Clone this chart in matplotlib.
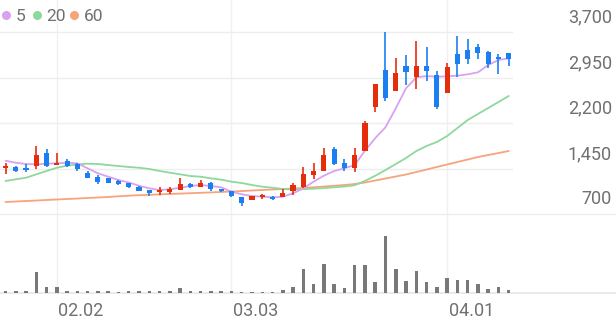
import matplotlib
matplotlib.use("Agg")
import matplotlib.pyplot as plt
import matplotlib.transforms as mtransforms
from matplotlib.lines import Line2D
import numpy as np

# ---------------- data ----------------
opens = [1460, 1480, 1450, 1491, 1700, 1512, 1578, 1529, 1371, 1305,
         1293, 1239, 1206, 1150, 1096, 1068, 1058, 1100, 1200, 1150,
         1206, 1107, 1074, 985, 931, 980, 985, 985, 1079, 1150,
         1343, 1414, 1771, 1535, 1453, 1743, 2468, 3073, 2727, 3144,
         2952, 3144, 2991, 2699, 3337, 3403, 3458, 3375, 3293, 3348]
highs = [1536, 1491, 1524, 1821, 1766, 1700, 1600, 1545, 1409, 1338,
         1300, 1260, 1215, 1161, 1100, 1140, 1140, 1288, 1211, 1255,
         1222, 1110, 1074, 985, 997, 1025, 990, 1117, 1206, 1480,
         1535, 1793, 1800, 1611, 1782, 2228, 2842, 3694, 3279, 3320,
         3551, 3460, 3062, 3193, 3638, 3584, 3496, 3386, 3332, 3348]
lows = [1354, 1392, 1397, 1442, 1480, 1512, 1480, 1404, 1288, 1189,
        1210, 1173, 1130, 1074, 1002, 1013, 1025, 1100, 1133, 1150,
        1079, 1070, 980, 837, 931, 950, 930, 975, 1013, 1123,
        1272, 1414, 1507, 1414, 1397, 1743, 2386, 2562, 2727, 2826,
        2755, 2897, 2430, 2699, 2966, 3167, 3254, 3112, 3002, 3145]
closes = [1480, 1414, 1430, 1677, 1491, 1545, 1496, 1437, 1298, 1227,
          1216, 1200, 1140, 1084, 1041, 1080, 1112, 1190, 1150, 1206,
          1112, 1074, 992, 876, 997, 990, 952, 1051, 1178, 1354,
          1414, 1667, 1524, 1453, 1677, 2195, 2842, 2607, 3018, 3035,
          3144, 3062, 2458, 3128, 3172, 3250, 3348, 3167, 3250, 3250]
volumes = [20, 20, 27, 217, 67, 67, 27, 23, 23, 27,
           23, 17, 20, 20, 23, 23, 27, 50, 27, 23,
           20, 20, 20, 17, 17, 10, 10, 33, 60, 247,
           97, 297, 93, 53, 287, 283, 113, 580, 243, 127,
           220, 113, 63, 153, 137, 133, 90, 47, 63, 33]
ma5 = [1578, 1545, 1524, 1518, 1529, 1535, 1545, 1535, 1453, 1371,
       1315, 1260, 1220, 1166, 1123, 1096, 1107, 1133, 1161, 1178,
       1161, 1140, 1068, 1025, 997, 985, 975, 985, 1041, 1123,
       1233, 1331, 1409, 1453, 1508, 1743, 1950, 2129, 2442, 2772,
       2953, 2974, 2963, 2970, 2980, 3002, 3035, 3156, 3238, 3266]
ma20 = [1244, 1272, 1298, 1354, 1409, 1463, 1496, 1518, 1529, 1524,
        1507, 1491, 1475, 1463, 1442, 1409, 1381, 1354, 1326, 1315,
        1288, 1266, 1233, 1211, 1178, 1150, 1133, 1112, 1104, 1110,
        1117, 1128, 1140, 1153, 1175, 1245, 1330, 1425, 1524, 1623,
        1738, 1821, 1887, 1985, 2117, 2249, 2348, 2447, 2546, 2645]
ma60 = [898, 906, 914, 922, 931, 939, 947, 955, 964, 972,
        980, 992, 1002, 1010, 1016, 1023, 1030, 1036, 1043, 1049,
        1056, 1063, 1071, 1079, 1087, 1096, 1104, 1112, 1120, 1128,
        1140, 1153, 1165, 1178, 1194, 1219, 1252, 1285, 1318, 1351,
        1392, 1433, 1475, 1516, 1557, 1598, 1639, 1672, 1705, 1738]
price_ticks = [700, 1450, 2200, 2950, 3700]
price_tick_labels = ["700", "1,450", "2,200", "2,950", "3,700"]
date_tick_idx = [5, 22, 43]
date_tick_labels = ["02.02", "03.03", "04.01"]
legend_labels = ["5", "20", "60"]

# ---------------- styling ----------------
W, H = 616, 321
STEP, X0 = 10.27, 5.5            # px per candle, px of first candle
P_TOP_PX, P_BOT_PX = 32.0, 214.0  # px of top / bottom price ticks
V_TOP_PX, V_BOT_PX = 225.0, 293.3
UP, DOWN = "#e52d0c", "#1b7ff2"
MA_COLORS = ["#d8a2f2", "#8fd89c", "#f6a47c"]
GRID = "#eeeeee"
TXT = "#707070"
FONT = ["Roboto", "DejaVu Sans"]

plt.rcParams["font.family"] = FONT

fig = plt.figure(figsize=(W / 100, H / 100), dpi=100)
fig.patch.set_facecolor("white")


def rect(x0, y0, x1, y1):
    return [x0 / W, 1 - y1 / H, (x1 - x0) / W, (y1 - y0) / H]


xlim = (-X0 / STEP, (W - X0) / STEP)
scale = (price_ticks[-1] - price_ticks[0]) / (P_BOT_PX - P_TOP_PX)

ax = fig.add_axes(rect(0, 0, W, P_BOT_PX))
ax.set_xlim(xlim)
ax.set_ylim(price_ticks[0], price_ticks[0] + P_BOT_PX * scale)
ax.axis("off")

vax = fig.add_axes(rect(0, V_TOP_PX, W, V_BOT_PX))
vax.set_xlim(xlim)
vax.set_ylim(0, max(volumes) * (V_BOT_PX - V_TOP_PX) / 57.7)
vax.axis("off")

idx = np.arange(len(closes))
o = np.array(opens, float)
c = np.array(closes, float)
hi = np.array(highs, float)
lo = np.array(lows, float)
colors = [UP if cc >= oo else DOWN for oo, cc in zip(o, c)]

# grid lines
grid_right = (512 - X0) / STEP
for p in price_ticks:
    xr = xlim[1] if p == price_ticks[0] else grid_right
    ax.plot([xlim[0], xr], [p, p], color=GRID, lw=1.0, zorder=0, clip_on=False)
vax.plot(xlim, [0, 0], color="#e6e6e6", lw=1.2, zorder=0, clip_on=False)

blend = mtransforms.blended_transform_factory(ax.transData, fig.transFigure)
for i in date_tick_idx:
    fig.add_artist(Line2D([i, i], [1 - V_BOT_PX / H, 1], transform=blend,
                          color="#f0f0f0", lw=1.0, zorder=0))

# moving averages
for vals, col in zip([ma60, ma20, ma5], MA_COLORS[::-1]):
    ax.plot(idx, vals, color=col, lw=1.3, zorder=2, solid_capstyle="round")

# candles
min_h = 1.6 * scale
bottoms = np.minimum(o, c)
heights = np.maximum(np.abs(c - o), min_h)
ax.vlines(idx, lo, hi, colors=colors, lw=1.2, zorder=3)
ax.bar(idx, heights, bottom=bottoms, width=0.5, color=colors, zorder=4,
       linewidth=0)

# volume
vax.bar(idx, volumes, width=0.34, color="#787878", zorder=2, linewidth=0)

# price labels
for p, lab in zip(price_ticks, price_tick_labels):
    ypx = P_BOT_PX - (p - price_ticks[0]) / scale
    fig.text(612 / W, 1 - (ypx - 9.5) / H, lab, ha="right", va="baseline",
             fontsize=13, color=TXT)

# date labels
for i, lab in zip(date_tick_idx, date_tick_labels):
    xpx = X0 + i * STEP + 1.5
    fig.text(xpx / W, 1 - 316 / H, lab, ha="left", va="baseline",
             fontsize=13, color=TXT)

# legend
leg_x = [6, 37, 74]
for lx, col, lab in zip(leg_x, MA_COLORS, legend_labels):
    fig.add_artist(Line2D([lx / W], [1 - 15 / H], marker="o", markersize=6.5,
                          color=col, markeredgewidth=0, transform=fig.transFigure))
    fig.text((lx + 9.5) / W, 1 - 15 / H, lab, ha="left", va="center_baseline",
             fontsize=12.5, color=TXT)

fig.savefig("out.png", dpi=100, facecolor="white")
